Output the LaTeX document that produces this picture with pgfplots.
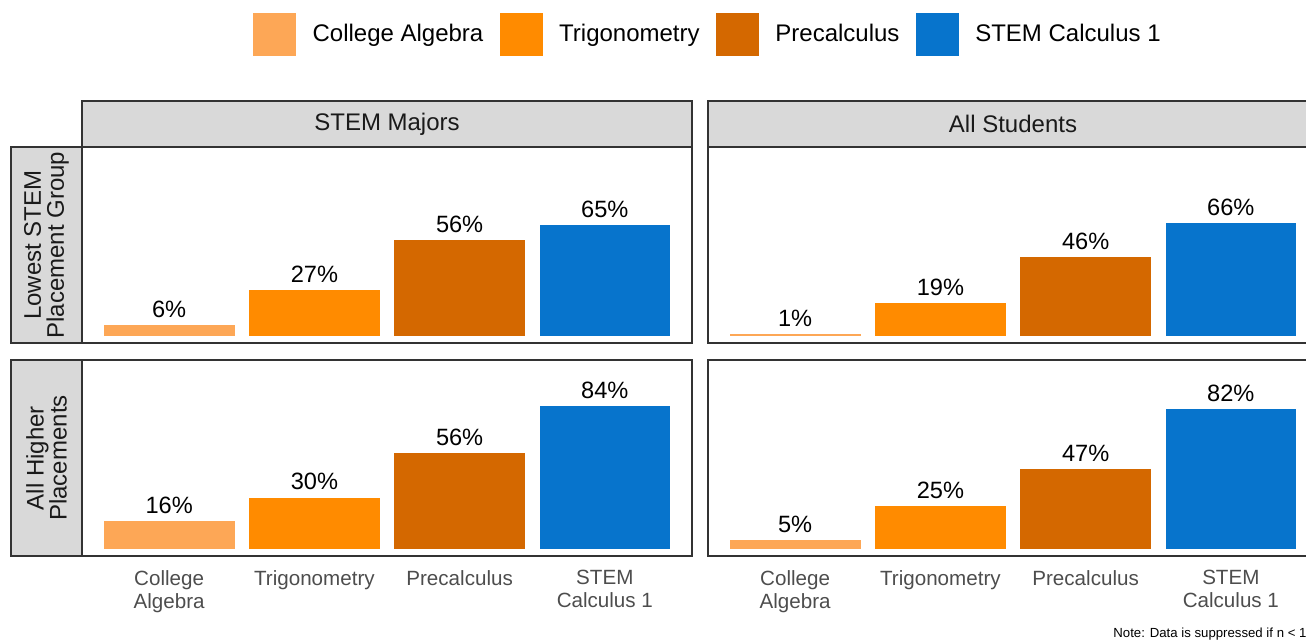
\documentclass[border=0pt]{standalone}
\usepackage{pgfplots}
\pgfplotsset{compat=1.18}
\usepackage{fontspec}
\setmainfont{Liberation Sans}
\definecolor{cCA}{HTML}{FDA756}
\definecolor{cTR}{HTML}{FF8B00}
\definecolor{cPC}{HTML}{D46800}
\definecolor{cSC}{HTML}{0774CC}
\definecolor{frameC}{HTML}{333333}
\definecolor{stripC}{HTML}{D9D9D9}
\definecolor{tickC}{HTML}{4D4D4D}
\definecolor{stripT}{HTML}{1A1A1A}
\pgfplotsset{
  panel/.style={scale only axis, width=305pt, height=98pt, anchor=south west,
    xmin=-0.6, xmax=3.6, ymin=-4.4, ymax=111,
    ytick=\empty, xtick=\empty, major tick length=0pt,
    axis line style={draw=frameC, line width=1pt},
    ybar, bar width=0.9, bar shift=0pt, clip=false,
    nodes near coords={\pgfmathprintnumber[assume math mode=true]{\pgfplotspointmeta}\%},
    every node near coord/.append style={font=\fontsize{11.8}{14}\selectfont, text=black, anchor=south, inner sep=0pt, yshift=3.5pt}},
  bottompanel/.style={panel, xtick={0,1,2,3},
    xticklabels={{College\\Algebra},Trigonometry,Precalculus,{STEM\\Calculus 1}},
    xticklabel style={align=center, anchor=north, inner sep=0pt, yshift=-7pt,
      font=\fontsize{10.3}{11.5}\selectfont, text=tickC}},
  legimg/.style={legend image code/.code={\fill[##1] (0pt,-10.75pt) rectangle (21.5pt,10.75pt);}},
}
\begin{document}
\begin{tikzpicture}[x=0.5pt,y=0.5pt]
% strips
\draw[fill=stripC, draw=frameC, line width=1pt] (82,492) rectangle (692,538);
\draw[fill=stripC, draw=frameC, line width=1pt] (708,492) rectangle (1318,538);
\draw[fill=stripC, draw=frameC, line width=1pt] (11,296) rectangle (82,492);
\draw[fill=stripC, draw=frameC, line width=1pt] (11,83) rectangle (82,279);
\node[font=\fontsize{12}{14}\selectfont, text=stripT] at (387,515) {STEM Majors};
\node[font=\fontsize{12}{14}\selectfont, text=stripT] at (1013,515) {All Students};
\node[font=\fontsize{12}{11.5}\selectfont, text=stripT, rotate=90, align=center] at (46.5,394) {Lowest STEM\\Placement Group};
\node[font=\fontsize{12}{11.5}\selectfont, text=stripT, rotate=90, align=center] at (46.5,181) {All Higher\\Placements};

% top left
\begin{axis}[panel, at={(41pt,148pt)},
  legend columns=4,
  legend style={draw=none, fill=none, at={(1.0245,1.574)}, anchor=center,
    font=\fontsize{12}{14}\selectfont,
    /tikz/every odd column/.append style={column sep=8.2pt},
    /tikz/every even column/.append style={column sep=8.2pt},
    nodes={inner sep=0pt}}]
\addplot[fill=cCA, draw=none, legimg] coordinates {(0,6)};
\addlegendentry{College Algebra}
\addplot[fill=cTR, draw=none, legimg] coordinates {(1,27)};
\addlegendentry{Trigonometry}
\addplot[fill=cPC, draw=none, legimg] coordinates {(2,56)};
\addlegendentry{Precalculus}
\addplot[fill=cSC, draw=none, legimg] coordinates {(3,65)};
\addlegendentry{STEM Calculus 1}
\end{axis}

% top right
\begin{axis}[panel, at={(354pt,148pt)}]
\addplot[fill=cCA, draw=none] coordinates {(0,1)};
\addplot[fill=cTR, draw=none] coordinates {(1,19)};
\addplot[fill=cPC, draw=none] coordinates {(2,46)};
\addplot[fill=cSC, draw=none] coordinates {(3,66)};
\end{axis}

% bottom left
\begin{axis}[bottompanel, at={(41pt,41.5pt)}]
\addplot[fill=cCA, draw=none] coordinates {(0,16)};
\addplot[fill=cTR, draw=none] coordinates {(1,30)};
\addplot[fill=cPC, draw=none] coordinates {(2,56)};
\addplot[fill=cSC, draw=none] coordinates {(3,84)};
\end{axis}

% bottom right
\begin{axis}[bottompanel, at={(354pt,41.5pt)}]
\addplot[fill=cCA, draw=none] coordinates {(0,5)};
\addplot[fill=cTR, draw=none] coordinates {(1,25)};
\addplot[fill=cPC, draw=none] coordinates {(2,47)};
\addplot[fill=cSC, draw=none] coordinates {(3,82)};
\end{axis}

\node[anchor=base west, font=\fontsize{6.6}{8}\selectfont, inner sep=0pt] at (1113,2) {Note: Data is suppressed if n < 10.};

\pgfresetboundingbox
\useasboundingbox (0,0) rectangle (1306,639);
\end{tikzpicture}
\end{document}
